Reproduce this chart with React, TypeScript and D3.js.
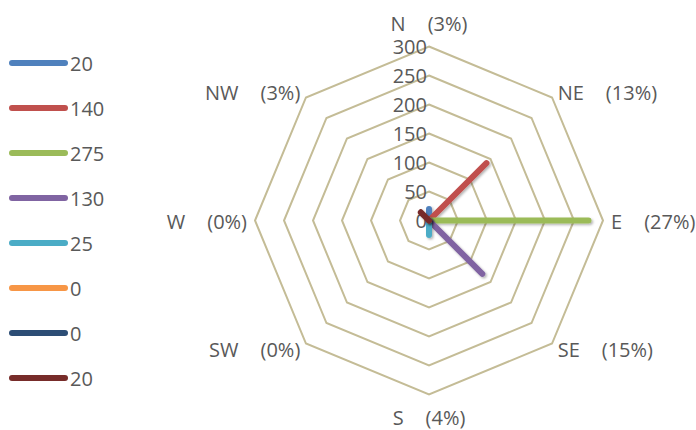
import React from "react";
import * as d3 from "d3";

const directions = ["N", "NE", "E", "SE", "S", "SW", "W", "NW"];
const percents = ["(3%)", "(13%)", "(27%)", "(15%)", "(4%)", "(0%)", "(0%)", "(3%)"];
const seriesNames = ["20", "140", "275", "130", "25", "0", "0", "20"];
const seriesValues = [20, 140, 275, 130, 25, 0, 0, 20];
const seriesColors = ["#4F81BD", "#C0504D", "#9BBB59", "#8064A2", "#4BACC6", "#F79646", "#2C4D75", "#772C2A"];
const ticks = [0, 50, 100, 150, 200, 250, 300];

const W = 696;
const H = 430;
const cx = 429;
const cy = 220.5;
const R = 174;
const FONT = "'Open Sans', sans-serif";
const FS = 20;
const TEXT = "#595959";
const GRID = "#C4BC96";

export default function App() {
  const r = d3.scaleLinear().domain([0, 300]).range([0, R]);
  const ang = d3.scalePoint<string>().domain(directions).range([0, 2 * Math.PI * (7 / 8)]);
  const pt = (a: number, rad: number): [number, number] => [cx + rad * Math.sin(a), cy - rad * Math.cos(a)];
  const ringLine = d3.line().curve(d3.curveLinearClosed);

  return (
    <svg width={W} height={H} style={{ position: "absolute", left: 0, top: 0 }} fontFamily={FONT}>
      <defs>
        <filter id="sh" filterUnits="userSpaceOnUse" x="0" y="0" width={W} height={H}>
          <feDropShadow dx="1.5" dy="1.5" stdDeviation="1" floodColor="#000" floodOpacity="0.3" />
        </filter>
      </defs>
      {ticks.slice(1).map((t) => (
        <path
          key={t}
          d={ringLine(directions.map((d) => pt(ang(d)!, r(t)))) || ""}
          fill="none"
          stroke={GRID}
          strokeWidth={2}
        />
      ))}
      {ticks.map((t) => (
        <text key={t} x={cx - 2} y={cy - r(t)} textAnchor="end" dominantBaseline="central" fontSize={FS} fill={TEXT}>
          {t}
        </text>
      ))}
      {directions.map((d, i) => {
        const a = ang(d)!;
        const [vx, vy] = pt(a, R);
        const s = Math.sin(a);
        const c = Math.cos(a);
        const cardinalNS = Math.abs(s) < 0.01;
        const x = vx + s * 8;
        const y = vy - c * (cardinalNS ? (c > 0 ? 24 : 22) : 8);
        const anchor = cardinalNS ? "middle" : s > 0 ? "start" : "end";
        return (
          <text key={d} x={x} y={y} textAnchor={anchor} dominantBaseline="central" fontSize={FS} fill={TEXT}>
            <tspan>{d}</tspan>
            <tspan dx={22}>{percents[i]}</tspan>
          </text>
        );
      })}
      {seriesValues.map((v, i) => {
        const a = ang(directions[i])!;
        const [x2, y2] = pt(a, r(v));
        return (
          <line
            key={i}
            x1={cx}
            y1={cy}
            x2={x2}
            y2={y2}
            stroke={seriesColors[i]}
            strokeWidth={6}
            strokeLinecap="round"
            filter="url(#sh)"
          />
        );
      })}
      {seriesNames.map((n, i) => {
        const y = 63 + i * 45;
        return (
          <g key={i}>
            <line x1={12} x2={65} y1={y} y2={y} stroke={seriesColors[i]} strokeWidth={6} strokeLinecap="round" />
            <text x={70} y={y} dominantBaseline="central" fontSize={FS} fill={TEXT}>
              {n}
            </text>
          </g>
        );
      })}
    </svg>
  );
}
